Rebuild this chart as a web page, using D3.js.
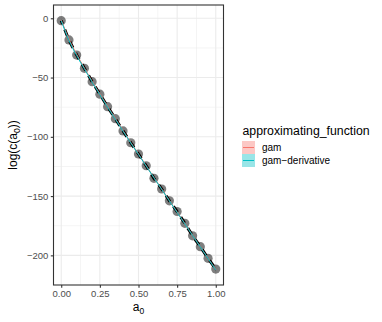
<!DOCTYPE html>
<html><head><meta charset="utf-8">
<script src="https://cdn.jsdelivr.net/npm/d3@7"></script>
<style>body{margin:0;background:#fff}svg{display:block}text{font-family:"Liberation Sans",Arial,sans-serif}</style>
</head><body><svg id="c" width="382" height="322"></svg>
<script>
const a0 = [0,0.05,0.1,0.15,0.2,0.25,0.3,0.35,0.4,0.45,0.5,0.55,0.6,0.65,0.7,0.75,0.8,0.85,0.9,0.95,1.0];
const logc = [-2,-18.3,-31,-42.2,-53.5,-64,-74.6,-84.7,-95,-105,-114.5,-124.4,-135,-144,-154,-163,-173,-183.5,-192.7,-202.5,-211.6];
const gam = [-1.5,-17.5,-30.5,-42,-53.2,-63.8,-74.3,-84.6,-94.8,-104.8,-114.6,-124.4,-134.4,-144,-153.8,-163.4,-173.2,-183,-192.8,-202.4,-212];
const gamDeriv = [-2,-18.6,-31.4,-42.6,-53.8,-64.4,-74.9,-85.1,-95.2,-105.2,-114.9,-124.7,-134.6,-144.3,-154.1,-163.7,-173.4,-183.2,-192.9,-202.6,-212.2];
const ribbonHalf = [1.2,0.9,0.8,0.7,0.6,0.6,0.6,0.6,0.6,0.6,0.6,0.6,0.6,0.6,0.6,0.6,0.6,0.7,0.8,0.9,1.2];
const xTicks = [0,0.25,0.5,0.75,1];
const xMinor = [0.125,0.375,0.625,0.875];
const yTicks = [0,-50,-100,-150,-200];
const yMinor = [-25,-75,-125,-175,-225];
const seriesNames = ["gam","gam\u2212derivative"];
const colors = ["#F8766D","#00BFC4"];

const svg = d3.select("#c");
const L=53.5,R=223.5,T=5,B=285;
const x = d3.scaleLinear().domain([-0.05,1.05]).range([L,R]);
const y = d3.scaleLinear().domain([-225,11.2]).range([B,T]);

const g = svg.append("g");
g.append("rect").attr("x",L).attr("y",T).attr("width",R-L).attr("height",B-T).attr("fill","#fff");
g.selectAll(".xmn").data(xMinor).enter().append("line").attr("x1",d=>x(d)).attr("x2",d=>x(d)).attr("y1",T).attr("y2",B).attr("stroke","#EBEBEB").attr("stroke-width",0.55);
g.selectAll(".ymn").data(yMinor.filter(v=>y(v)>T&&y(v)<B)).enter().append("line").attr("y1",d=>y(d)).attr("y2",d=>y(d)).attr("x1",L).attr("x2",R).attr("stroke","#EBEBEB").attr("stroke-width",0.55);
g.selectAll(".xmj").data(xTicks).enter().append("line").attr("x1",d=>x(d)).attr("x2",d=>x(d)).attr("y1",T).attr("y2",B).attr("stroke","#EBEBEB").attr("stroke-width",1.1);
g.selectAll(".ymj").data(yTicks).enter().append("line").attr("y1",d=>y(d)).attr("y2",d=>y(d)).attr("x1",L).attr("x2",R).attr("stroke","#EBEBEB").attr("stroke-width",1.1);

const idx = d3.range(a0.length);
const series = [gam, gamDeriv];
series.forEach((s,i)=>{
  const area = d3.area().x(j=>x(a0[j])).y0(j=>y(s[j]-ribbonHalf[j])).y1(j=>y(s[j]+ribbonHalf[j])).curve(d3.curveMonotoneX);
  g.append("path").attr("d",area(idx)).attr("fill",colors[i]).attr("opacity",0.4);
});
g.selectAll("circle").data(idx).enter().append("circle").attr("cx",j=>x(a0[j])).attr("cy",j=>y(logc[j])).attr("r",4.6).attr("fill","#000").attr("fill-opacity",0.5);
const ln = d3.line().x(j=>x(a0[j])).y(j=>y(logc[j]));
g.append("path").attr("d",ln(idx)).attr("fill","none").attr("stroke","#000").attr("stroke-width",3).attr("stroke-dasharray","7,6").attr("stroke-dashoffset",3.5);
series.forEach((s,i)=>{
  const l = d3.line().x(j=>x(a0[j])).y(j=>y(s[j])).curve(d3.curveMonotoneX);
  g.append("path").attr("d",l(idx)).attr("fill","none").attr("stroke",colors[i]).attr("stroke-width",1);
});
g.append("rect").attr("x",L).attr("y",T).attr("width",R-L).attr("height",B-T).attr("fill","none").attr("stroke","#333333").attr("stroke-width",1.1);

const fmtY = d=> d<0 ? "\u2212"+Math.abs(d) : String(d);
const yAx = svg.append("g").attr("transform",`translate(${L},0)`).call(d3.axisLeft(y).tickValues(yTicks).tickSize(2.7).tickPadding(2.5).tickFormat(fmtY));
const xAx = svg.append("g").attr("transform",`translate(0,${B})`).call(d3.axisBottom(x).tickValues(xTicks).tickSize(2.7).tickPadding(2.5).tickFormat(d3.format(".2f")));
[yAx,xAx].forEach(a=>{
  a.select(".domain").remove();
  a.selectAll(".tick line").attr("stroke","#333333").attr("stroke-width",1.1);
  a.selectAll(".tick text").attr("fill","#4D4D4D").attr("font-size","9.5px").attr("font-family","Liberation Sans, Arial, sans-serif");
});

const xt = svg.append("text").attr("x",(L+R)/2).attr("y",311).attr("text-anchor","middle").attr("font-size","12px").attr("fill","#000");
xt.append("tspan").text("a");
xt.append("tspan").attr("font-size","8.5px").attr("dy",3).text("0");
const yt = svg.append("text").attr("transform",`translate(17,${(T+B)/2}) rotate(-90)`).attr("text-anchor","middle").attr("font-size","12px").attr("fill","#000");
yt.append("tspan").text("log(c(a");
yt.append("tspan").attr("font-size","8.5px").attr("dy",3).text("0");
yt.append("tspan").attr("dy",-3).text("))");

const lg = svg.append("g");
lg.append("text").attr("x",242.5).attr("y",135).attr("font-size","12.3px").attr("fill","#000").text("approximating_function");
seriesNames.forEach((n,i)=>{
  const ky = 141 + i*13;
  lg.append("rect").attr("x",242).attr("y",ky).attr("width",13).attr("height",13).attr("fill",colors[i]).attr("opacity",0.4);
  lg.append("line").attr("x1",243).attr("x2",254).attr("y1",ky+6.5).attr("y2",ky+6.5).attr("stroke",colors[i]).attr("stroke-width",1);
  lg.append("text").attr("x",262).attr("y",ky+6.5).attr("dy","0.35em").attr("font-size","10px").attr("fill","#000").text(n);
});
</script></body></html>
